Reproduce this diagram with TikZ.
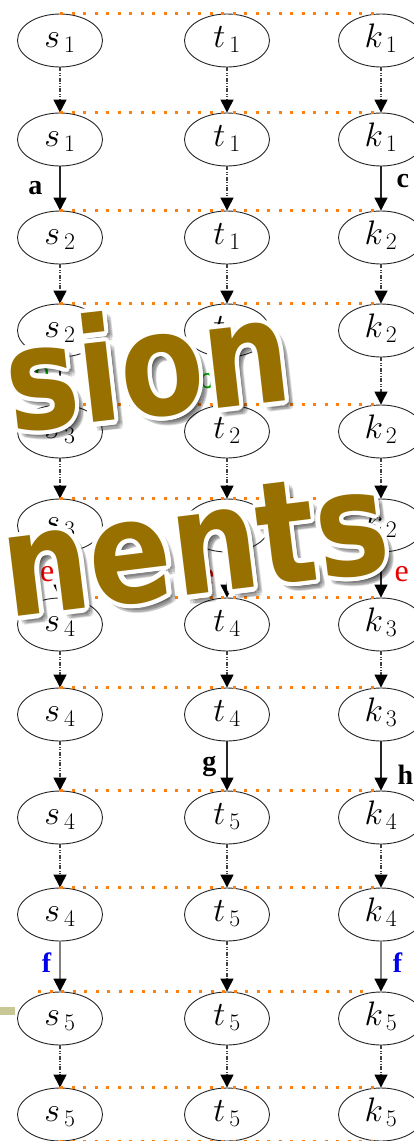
\RequirePackage{fix-cm}
\documentclass[tikz,border=0pt]{standalone}
\usepackage{fontspec}
\setmainfont{Liberation Serif}[ItalicFont={Liberation Serif Italic},BoldFont={Liberation Serif Bold}]
\newfontfamily\ovfont{DejaVu Sans}[BoldFont={DejaVu Sans Bold}]
\newfontfamily\sansb{Liberation Sans}
\usetikzlibrary{shapes.geometric,arrows.meta}
\definecolor{dotorange}{RGB}{255,127,14}
\definecolor{gold}{RGB}{152,112,0}
\definecolor{lblgreen}{RGB}{0,170,0}
\definecolor{lblred}{RGB}{235,0,0}
\definecolor{lblblue}{RGB}{0,0,235}
\definecolor{olivebar}{RGB}{200,200,150}
\newcommand\vlab[2]{\raisebox{0pt}[24pt][9.4pt]{\fontsize{34}{38}\selectfont$#1_{\mkern3mu #2}$}}
\newcommand\tall[1]{\scalebox{1}[1.18]{#1}}
\tikzset{
  st/.style={ellipse, draw=black!85, line width=0.9pt, minimum width=85pt, minimum height=53pt, inner sep=0pt},
  tip/.style={-{Triangle[width=13pt,length=13pt,color=black]}},
  dd/.style={tip, draw=black!75, line width=1.3pt, dash pattern=on 4pt off 1.5pt on 1pt off 1.5pt on 1pt off 1.5pt},
  sol/.style={tip, draw=black!85, line width=1.2pt},
  solg/.style={tip, draw=black!50, line width=1.8pt},
  hl/.style={draw=dotorange, line width=2.6pt, dash pattern=on 3pt off 8.5pt},
  labb/.style={inner sep=0pt, font=\fontsize{28}{30}\selectfont\bfseries},
  labgreen/.style={inner sep=0pt, text=lblgreen, font=\sansb\fontsize{28}{30}\selectfont},
  labred/.style={inner sep=0pt, text=lblred, font=\fontsize{32}{34}\selectfont},
  labblue/.style={inner sep=0pt, text=lblblue, font=\fontsize{28}{30}\selectfont\bfseries},
  ovtxt/.style={inner sep=0pt, anchor=base, font=\ovfont\bfseries\fontsize{122}{130}\selectfont}
}
\begin{document}
\begin{tikzpicture}[x=1pt,y=-1pt]
\fill[white] (0,0) rectangle (414,1141);
\useasboundingbox (0,0) rectangle (414,1141);
% nodes
\foreach \r/\y/\a/\b/\c in {1/40.5/1/1/1, 2/139.5/1/1/1, 3/237.5/2/1/2, 4/330.5/2/1/2, 5/431.5/3/2/2, 6/525.5/3/2/2, 7/624.5/4/4/3, 8/714.5/4/4/3, 9/817.5/4/5/4, 10/914.5/4/5/4, 11/1018.5/5/5/5, 12/1114.5/5/5/5}{
  \node[st] (s\r) at (60,\y) {\vlab{s}{\a}};
  \node[st] (t\r) at (227,\y) {\vlab{t}{\b}};
  \node[st] (k\r) at (381,\y) {\vlab{k}{\c}};
}
% dash-dot transitions
\foreach \r/\n in {1/2,3/4,5/6,7/8,8/9,9/10,11/12}{\draw[dd] (s\r.south) -- (s\n.north);}
\foreach \r/\n in {1/2,2/3,3/4,5/6,7/8,9/10,10/11,11/12}{\draw[dd] (t\r.south) -- (t\n.north);}
\foreach \r/\n in {1/2,3/4,4/5,5/6,7/8,9/10,11/12}{\draw[dd] (k\r.south) -- (k\n.north);}
% labelled transitions
\draw[sol] (s2.south) -- node[labb, pos=.5, left=17pt]{a} (s3.north);
\draw[sol] (k2.south) -- node[labb, pos=.33, right=15pt]{c} (k3.north);
\draw[sol] (s4.south) -- node[labgreen, pos=.3, left=10pt]{b} (s5.north);
\draw[sol] (t4.south) -- node[labgreen, pos=.44, left=12pt]{b} (t5.north);
\draw[sol] (s6.south) -- node[labred, pos=.49, left=5pt]{e} (s7.north);
\draw[sol] (t6.south) -- node[labred, pos=.55, left=12pt]{e} (t7.north);
\draw[sol] (k6.south) -- node[labred, pos=.49, right=13pt]{e} (k7.north);
\draw[sol] (t8.south) -- node[labb, pos=.5, left=10pt]{g} (t9.north);
\draw[sol] (k8.south) -- node[labb, pos=.67, right=16pt]{h} (k9.north);
\draw[solg] (s10.south) -- node[labblue, pos=.43, left=8pt]{f} (s11.north);
\draw[solg] (k10.south) -- node[labblue, pos=.43, right=11pt]{f} (k11.north);
% orange dotted alignment lines
\foreach \r in {1,2,3,4,5,6,7,8,9,10,12}{\draw[hl] (s\r.north) -- (k\r.north);}
\draw[hl] ([xshift=-22pt]s11.north) -- ([xshift=-11pt]k11.north);
\draw[hl] (s12.south) -- (k12.south);
% small bar
\fill[olivebar] (0,1007) rectangle (15,1015);
% overlay words
\foreach \ang in {0,45,...,315}{
  \node[ovtxt, text=black, opacity=0.12, xshift={6+3*cos(\ang)}, yshift={-6+3*sin(\ang)}, rotate=6.5] at (153,416) {\tall{sion}};
  \node[ovtxt, text=black, opacity=0.12, xshift={6+3*cos(\ang)}, yshift={-6+3*sin(\ang)}, rotate=7] at (201,594) {\tall{nents}};
}
\foreach \ang in {0,22.5,...,337.5}{
  \node[ovtxt, text=white, xshift={4.5*cos(\ang)}, yshift={4.5*sin(\ang)}, rotate=6.5] at (153,416) {\tall{sion}};
  \node[ovtxt, text=white, xshift={4.5*cos(\ang)}, yshift={4.5*sin(\ang)}, rotate=7] at (201,594) {\tall{nents}};
}
\node[ovtxt, text=gold, rotate=6.5] (w1) at (153,416) {\tall{sion}};
\node[ovtxt, text=gold, rotate=7] (w2) at (201,594) {\tall{nents}};
\end{tikzpicture}
\end{document}
